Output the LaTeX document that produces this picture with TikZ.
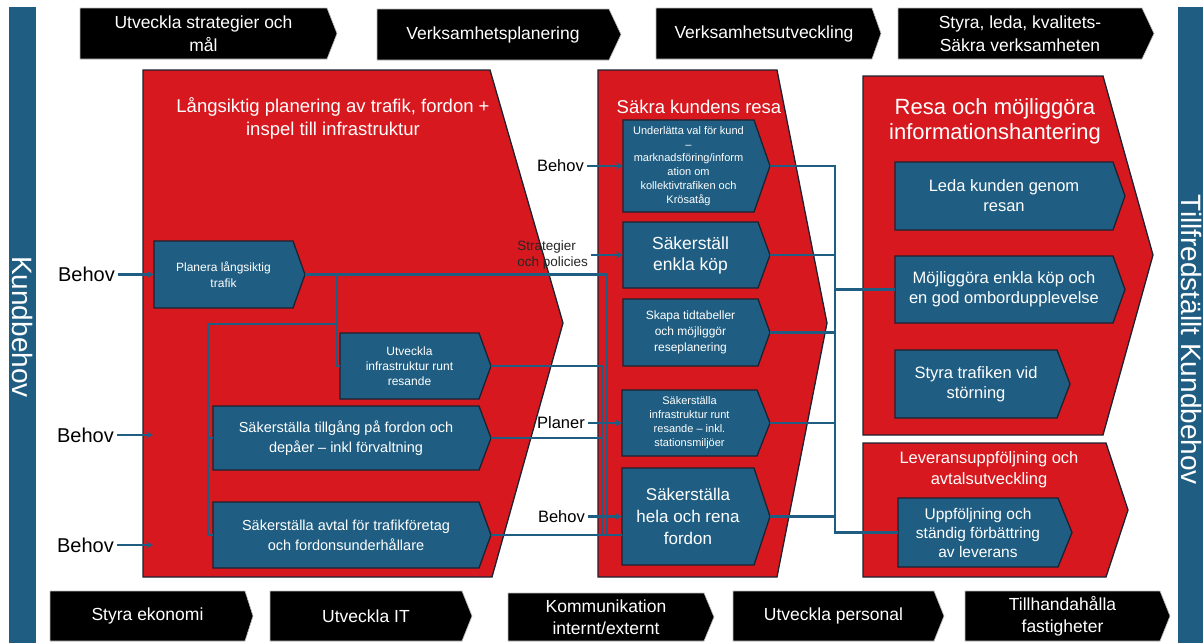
\documentclass[tikz,border=0pt]{standalone}
\usepackage{fontspec}
\setmainfont{Liberation Sans}
\usetikzlibrary{arrows.meta,calc}
\definecolor{rd}{RGB}{215,24,30}
\definecolor{bl}{RGB}{31,94,130}
\definecolor{edge}{RGB}{28,34,48}
\newcommand{\fs}[2]{\fontsize{#1}{#2}\selectfont}
% style, name, x1, y1, x2(tip), y2, tip depth, font, text
\newcommand{\hpbox}[9]{%
  \path[#1] (#3,#4) -- ({#5-#7},#4) -- (#5,{(#4+#6)/2}) -- ({#5-#7},#6) -- (#3,#6) -- cycle;
  \coordinate (#2-w) at (#3,{(#4+#6)/2});
  \coordinate (#2-e) at (#5,{(#4+#6)/2});
  \node[wt,font=#8] (#2) at ({(#3+#5-#7)/2},{(#4+#6)/2}) {#9};
}
\tikzset{
  redshape/.style={fill=rd, draw=edge, line width=1.3pt, line join=miter},
  bluebox/.style={fill=bl, draw=edge, line width=1.3pt},
  blackbox/.style={fill=black, draw=gray!50, line width=0.6pt},
  wt/.style={text=white, align=center, inner sep=0pt},
  conn/.style={draw=bl, line width=2.2pt},
  arr/.style={conn, -{Stealth[length=7pt,width=7pt]}},
  lbl/.style={text=black, inner sep=3pt},
  bartext/.style={rotate=-90, text=white, font=\fs{28}{30}},
}
\begin{document}
\begin{tikzpicture}[x=1pt,y=-1pt]
\useasboundingbox (0,0) rectangle (1203,643);
\fill[white] (0,0) rectangle (1203,643);
% side bars
\fill[bl] (9,7) rectangle (36,650);
\fill[bl] (1178,7) rectangle (1210,650);
\node[bartext] (kb) at (22.5,327) {Kundbehov};
\node[bartext] (tk) at (1191,340) {Tillfredställt Kundbehov};
% top black boxes
\hpbox{blackbox}{t1}{80}{8}{337}{59}{10}{\fs{17.5}{23}}{Utveckla strategier och\\mål}
\hpbox{blackbox}{t2}{377}{9}{621}{60}{12}{\fs{17.5}{23}}{Verksamhetsplanering}
\hpbox{blackbox}{t3}{656}{8}{881}{59}{9}{\fs{17.5}{23}}{Verksamhetsutveckling}
\hpbox{blackbox}{t4}{898}{8}{1154}{59}{12}{\fs{17.5}{23}}{Styra, leda, kvalitets-\\Säkra verksamheten}
% bottom black boxes
\hpbox{blackbox}{u1}{50}{591}{253}{641}{8}{\fs{17.5}{23}}{Styra ekonomi}
\hpbox{blackbox}{u2}{270}{591}{472}{641}{10}{\fs{17.5}{23}}{Utveckla IT}
\hpbox{blackbox}{u3}{508}{593}{714}{641}{10}{\fs{17.5}{22}}{Kommunikation\\internt/externt}
\hpbox{blackbox}{u4}{733}{591}{944}{641}{10}{\fs{17.5}{23}}{Utveckla personal}
\hpbox{blackbox}{u5}{965}{591}{1170}{641}{10}{\fs{17.5}{22}}{Tillhandahålla\\fastigheter}
% red process shapes
\path[redshape] (143,70) -- (490,70) -- (563,323) -- (492,577) -- (143,577) -- cycle;
\path[redshape] (598,70) -- (777,70) -- (827,323) -- (777,577) -- (598,577) -- cycle;
\path[redshape] (863,76) -- (1103,76) -- (1153,255) -- (1103,435) -- (863,435) -- cycle;
\path[redshape] (863,443) -- (1106,443) -- (1128,510) -- (1106,577) -- (863,577) -- cycle;
% titles
\node[wt,font=\fs{18.5}{23}] (ta) at (333,118) {Långsiktig planering av trafik, fordon +\\inspel till infrastruktur};
\node[wt,font=\fs{18.5}{23}] (tb) at (699,107) {Säkra kundens resa};
\node[wt,font=\fs{22}{25}] (tc) at (995,121) {Resa och möjliggöra\\informationshantering};
\node[wt,font=\fs{16.5}{21}] (td) at (989,470) {Leveransuppföljning och\\avtalsutveckling};
% blue boxes A
\hpbox{bluebox}{plan}{154}{241}{305}{308}{12}{\fs{12}{16}}{Planera långsiktig\\trafik}
\hpbox{bluebox}{utv}{340}{333}{491}{399}{12}{\fs{12}{15}}{Utveckla\\infrastruktur runt\\resande}
\hpbox{bluebox}{till}{213}{406}{491}{470}{12}{\fs{14.5}{20}}{Säkerställa tillgång på fordon och\\depåer – inkl förvaltning}
\hpbox{bluebox}{avtal}{213}{502}{491}{568}{12}{\fs{14.5}{20}}{Säkerställa avtal för trafikföretag\\och fordonsunderhållare}
% blue boxes B
\hpbox{bluebox}{b1}{623}{120}{770}{212}{16}{\fs{11}{13.7}}{Underlätta val för kund\\–\\marknadsföring/inform\\ation om\\kollektivtrafiken och\\Krösatåg}
\hpbox{bluebox}{b2}{623}{222}{770}{288}{12}{\fs{17.5}{21}}{Säkerställ\\enkla köp}
\hpbox{bluebox}{b3}{623}{299}{770}{366}{12}{\fs{12}{16}}{Skapa tidtabeller\\och möjliggör\\reseplanering}
\hpbox{bluebox}{b4}{622}{390}{770}{456}{13}{\fs{11}{14}}{Säkerställa\\infrastruktur runt\\resande – inkl.\\stationsmiljöer}
\hpbox{bluebox}{hela}{622}{468}{770}{565}{16}{\fs{17}{22}}{Säkerställa\\hela och rena\\fordon}
% blue boxes C, D
\hpbox{bluebox}{c1}{895}{162}{1125}{230}{12}{\fs{16.5}{20}}{Leda kunden genom\\resan}
\hpbox{bluebox}{c2}{895}{256}{1125}{323}{12}{\fs{16.5}{20}}{Möjliggöra enkla köp och\\en god ombordupplevelse}
\hpbox{bluebox}{c3}{895}{350}{1070}{418}{13}{\fs{16.5}{20}}{Styra trafiken vid\\störning}
\hpbox{bluebox}{d1}{898}{498}{1072}{567}{14}{\fs{15.5}{19}}{Uppföljning och\\ständig förbättring\\av leverans}
% input labels
\node[lbl,font=\fs{20}{22},anchor=east] (bh1) at ([xshift=-36pt]plan-w) {Behov};
\coordinate (in2) at (153,435);
\coordinate (in3) at (153,545);
\node[lbl,font=\fs{20}{22},anchor=east] (bh2) at ([xshift=-36pt]in2) {Behov};
\node[lbl,font=\fs{20}{22},anchor=east] (bh3) at ([xshift=-36pt]in3) {Behov};
\node[lbl,font=\fs{16.5}{20},anchor=east] (bh4) at ([xshift=-36pt]b1-w) {Behov};
\node[lbl,font=\fs{13.5}{16},anchor=east,align=left,text=black!85] (sp) at ([xshift=-32pt]b2-w) {Strategier\\och policies};
\node[lbl,font=\fs{16.5}{20},anchor=east] (pl) at ([xshift=-34pt]b4-w) {Planer};
\node[lbl,font=\fs{16.5}{20},anchor=east] (bh5) at ([xshift=-34pt]hela-w) {Behov};
\draw[arr] (bh1.east) -- (plan-w);
\draw[arr] (bh2.east) -- (in2);
\draw[arr] (bh3.east) -- (in3);
\draw[arr] (bh4.east) -- (b1-w);
\draw[arr] (sp.east) -- (b2-w);
\draw[arr] (pl.east) -- (b4-w);
\draw[arr] (bh5.east) -- (hela-w);
% connectors inside A
\coordinate (va) at (337,324);
\coordinate (vb) at (208,324);
\draw[conn] (plan-e -| va) -- (va |- utv-w) -- (utv-w);
\draw[conn] (va) -- (vb) -- (vb |- avtal-w) -- (avtal-w);
\draw[conn] (vb |- till-w) -- (till-w);
% connectors A to B
\coordinate (lbA) at (602,0);
\coordinate (lbB) at (607,0);
\draw[conn] (plan-e) -- (plan-e -| lbB) -- (lbB |- avtal-e);
\draw[conn] (utv-e) -- (utv-e -| lbA) -- (lbA |- avtal-e);
\draw[conn] (till-e) -- (till-e -| lbA);
\draw[conn] (avtal-e) -- (avtal-e -| hela-w);
% connectors B to C/D
\coordinate (bus) at (835,0);
\draw[conn] (b1-e) -- (b1-e -| bus) -- (bus |- d1-w) -- (d1-w);
\draw[conn] (b2-e) -- (b2-e -| bus);
\draw[conn] (b3-e) -- (b3-e -| bus);
\draw[conn] (b4-e) -- (b4-e -| bus);
\draw[conn] (hela-e) -- (hela-e -| bus);
\draw[conn] (bus |- c2-w) -- (c2-w);
\end{tikzpicture}
\end{document}
